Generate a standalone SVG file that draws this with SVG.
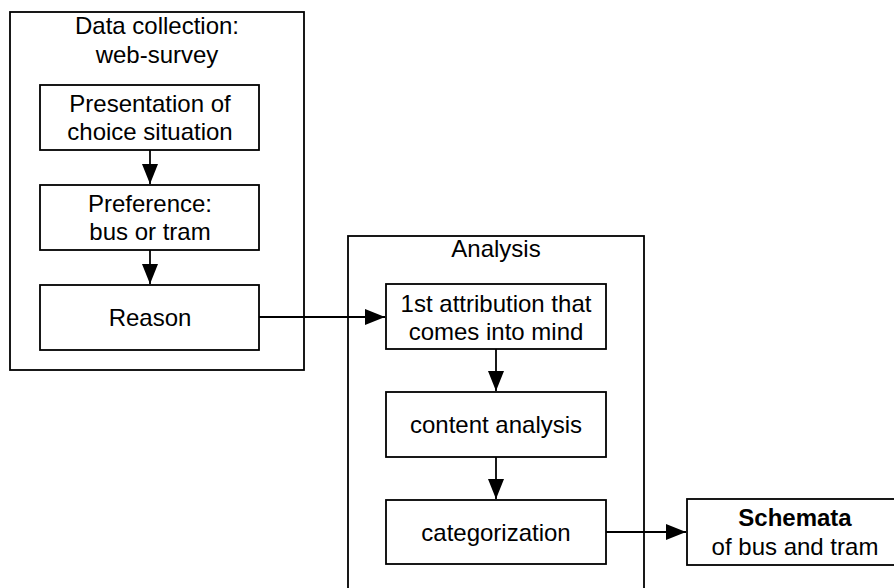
<svg xmlns="http://www.w3.org/2000/svg" width="894" height="588" viewBox="0 0 894 588">
<style>
rect{fill:#fff;stroke:#000;stroke-width:1.8}
text{font-family:"Liberation Sans",Arial,sans-serif;font-size:24px;fill:#000;text-anchor:middle}
.c{stroke:#000;stroke-width:1.8;fill:none}
.b{font-weight:bold}
</style>
<defs>
<marker id="ah" markerUnits="userSpaceOnUse" markerWidth="20" markerHeight="16" refX="20" refY="8" orient="auto" viewBox="0 0 20 16">
<path d="M0,0 L20,8 L0,16 Z" fill="#000"/>
</marker>
</defs>
<g id="datacollection">
<rect x="10" y="12" width="294" height="358"/>
<text x="157" y="34">Data collection:</text>
<text x="157" y="63">web-survey</text>
</g>
<g id="analysis">
<rect x="348" y="236" width="296" height="360"/>
<text x="496" y="257">Analysis</text>
</g>
<g id="presentation">
<rect x="40" y="85" width="219" height="65"/>
<text x="150" y="112">Presentation of</text>
<text x="150" y="140">choice situation</text>
</g>
<g id="preference">
<rect x="40" y="185" width="219" height="65"/>
<text x="150" y="212">Preference:</text>
<text x="150" y="240">bus or tram</text>
</g>
<g id="reason">
<rect x="40" y="285" width="219" height="65"/>
<text x="150" y="326">Reason</text>
</g>
<g id="attribution">
<rect x="386" y="284" width="220" height="65"/>
<text x="496" y="312">1st attribution that</text>
<text x="496" y="340">comes into mind</text>
</g>
<g id="content">
<rect x="386" y="392" width="220" height="65"/>
<text x="496" y="433">content analysis</text>
</g>
<g id="categorization">
<rect x="386" y="500" width="220" height="64"/>
<text x="496" y="541">categorization</text>
</g>
<g id="schemata">
<rect x="687" y="499" width="210" height="66"/>
<text x="795" y="526" class="b">Schemata</text>
<text x="795" y="555">of bus and tram</text>
</g>
<g id="connectors">
<line class="c" x1="150" y1="150" x2="150" y2="184" marker-end="url(#ah)"/>
<line class="c" x1="150" y1="250" x2="150" y2="284" marker-end="url(#ah)"/>
<line class="c" x1="259" y1="317" x2="385" y2="317" marker-end="url(#ah)"/>
<line class="c" x1="496" y1="349" x2="496" y2="391" marker-end="url(#ah)"/>
<line class="c" x1="496" y1="457" x2="496" y2="499" marker-end="url(#ah)"/>
<line class="c" x1="606" y1="532" x2="686" y2="532" marker-end="url(#ah)"/>
</g>
</svg>
